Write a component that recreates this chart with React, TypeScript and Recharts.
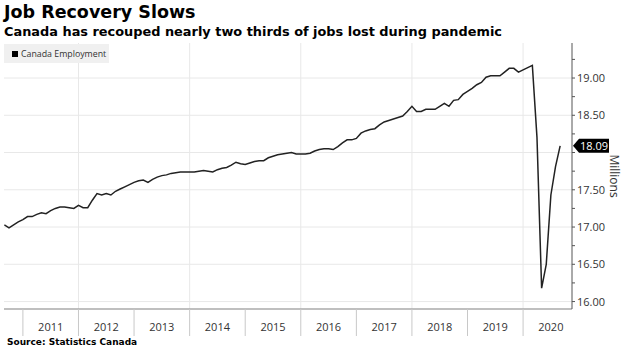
import React from 'react';
import { LineChart, Line, XAxis, YAxis, CartesianGrid, ReferenceDot } from 'recharts';

// Canada employment, millions, monthly (month-end), Aug 2010 - Aug 2020
const emp2010 = [17.03, 16.99, 17.03, 17.07, 17.10]; // Aug-Dec
const emp2011 = [17.14, 17.14, 17.17, 17.19, 17.18, 17.22, 17.25, 17.27, 17.27, 17.26, 17.25, 17.29];
const emp2012 = [17.26, 17.26, 17.36, 17.45, 17.43, 17.45, 17.43, 17.48, 17.51, 17.54, 17.57, 17.60];
const emp2013 = [17.62, 17.63, 17.60, 17.64, 17.67, 17.69, 17.70, 17.72, 17.73, 17.74, 17.74, 17.74];
const emp2014 = [17.74, 17.75, 17.76, 17.75, 17.74, 17.77, 17.79, 17.80, 17.83, 17.87, 17.85, 17.84];
const emp2015 = [17.86, 17.88, 17.89, 17.89, 17.93, 17.95, 17.97, 17.98, 17.99, 18.00, 17.98, 17.98];
const emp2016 = [17.98, 17.99, 18.02, 18.04, 18.05, 18.05, 18.04, 18.08, 18.13, 18.17, 18.17, 18.19];
const emp2017 = [18.26, 18.29, 18.31, 18.32, 18.37, 18.41, 18.43, 18.45, 18.47, 18.49, 18.55, 18.62];
const emp2018 = [18.55, 18.55, 18.58, 18.58, 18.58, 18.62, 18.66, 18.62, 18.70, 18.71, 18.78, 18.82];
const emp2019 = [18.86, 18.91, 18.94, 19.01, 19.03, 19.03, 19.03, 19.08, 19.13, 19.13, 19.08, 19.11];
const emp2020 = [19.14, 19.17, 18.20, 16.18, 16.50, 17.43, 17.81, 18.09]; // Jan-Aug

const years = [2010, 2011, 2012, 2013, 2014, 2015, 2016, 2017, 2018, 2019, 2020];
const series = [emp2010, emp2011, emp2012, emp2013, emp2014, emp2015, emp2016, emp2017, emp2018, emp2019, emp2020];
const firstMonth = [8, 1, 1, 1, 1, 1, 1, 1, 1, 1, 1];

const yearTicks = [2011, 2012, 2013, 2014, 2015, 2016, 2017, 2018, 2019, 2020];
const gridYears = [2012, 2014, 2016, 2018, 2020];
const valueTicks = [16, 16.25, 16.5, 16.75, 17, 17.25, 17.5, 17.75, 18, 18.25, 18.5, 18.75, 19, 19.25];
const gridValues = [16, 16.5, 17, 17.5, 18, 18.5, 19];
const lastValue = 18.09;

const X_MIN = 2010.66;
const X_MAX = 2020.88;
const Y_MIN = 15.9;
const Y_MAX = 19.47;

const W = 628;
const H = 360;
const MARGIN = { top: 43, right: 0, bottom: 21, left: 4 };
const Y_AXIS_W = 56;
const PLOT_W = W - MARGIN.left - MARGIN.right - Y_AXIS_W;
const YEAR_PX = PLOT_W / (X_MAX - X_MIN);

const data = series.flatMap((vals, i) =>
  vals.map((v, j) => ({ t: years[i] + (firstMonth[i] + j) / 12, value: v }))
);

const tickFont = '"Open Sans", sans-serif';

const YearTick = (props: any) => {
  const { x, y, payload } = props;
  return (
    <g>
      <line x1={x} x2={x} y1={y} y2={y + 27} stroke="#c8c8c8" strokeWidth={1} />
      <text
        x={x + YEAR_PX / 2}
        y={y + 22}
        textAnchor="middle"
        fontFamily={tickFont}
        fontSize={11}
        fill="#333"
      >
        {payload.value}
      </text>
    </g>
  );
};

const ValueTick = (props: any) => {
  const { x, y, payload } = props;
  const major = Math.abs(payload.value * 2 - Math.round(payload.value * 2)) < 1e-6;
  // the last-value badge sits over the 18.00 label
  const hidden = Math.abs(payload.value - lastValue) < 0.15;
  return (
    <g>
      <line x1={x} x2={x + 3} y1={y} y2={y} stroke="#555" strokeWidth={1} />
      {major && !hidden && (
        <text x={x + 5} y={y + 4} fontFamily={tickFont} fontSize={11} fill="#333">
          {payload.value.toFixed(2)}
        </text>
      )}
    </g>
  );
};

const Badge = (props: any) => {
  const { cx, cy } = props;
  return (
    <g>
      <polygon
        points={`${cx + 1},${cy} ${cx + 7},${cy - 7} ${cx + 37},${cy - 7} ${cx + 37},${cy + 7} ${cx + 7},${cy + 7}`}
        fill="#000"
      />
      <text
        x={cx + 22}
        y={cy + 4}
        textAnchor="middle"
        fontFamily={tickFont}
        fontSize={11}
        fill="#fff"
      >
        {lastValue.toFixed(2)}
      </text>
    </g>
  );
};

const MillionsLabel = (props: any) => {
  const { viewBox } = props;
  const cx = viewBox.x + 42;
  const cy = viewBox.y + viewBox.height / 2;
  return (
    <text
      x={cx}
      y={cy}
      transform={`rotate(90, ${cx}, ${cy})`}
      textAnchor="middle"
      dominantBaseline="central"
      fontFamily={tickFont}
      fontSize={12}
      fill="#333"
    >
      Millions
    </text>
  );
};

export default function App() {
  return (
    <div
      style={{
        position: 'absolute',
        left: 0,
        top: 0,
        width: W,
        height: H,
        background: '#fff',
        overflow: 'hidden',
      }}
    >
      <div
        style={{
          position: 'absolute',
          left: 4,
          top: 2,
          fontFamily: '"DejaVu Sans", sans-serif',
          fontWeight: 'bold',
          fontSize: 17.5,
          color: '#000',
          whiteSpace: 'nowrap',
        }}
      >
        Job Recovery Slows
      </div>
      <div
        style={{
          position: 'absolute',
          left: 4,
          top: 24,
          fontFamily: '"DejaVu Sans", sans-serif',
          fontWeight: 'bold',
          fontSize: 12.9,
          color: '#000',
          whiteSpace: 'nowrap',
        }}
      >
        Canada has recouped nearly two thirds of jobs lost during pandemic
      </div>

      <LineChart width={W} height={H} data={data} margin={MARGIN}>
        <CartesianGrid
          stroke="#e8e8e8"
          strokeWidth={1}
          horizontalValues={gridValues}
          verticalValues={gridYears}
        />
        <XAxis
          dataKey="t"
          type="number"
          domain={[X_MIN, X_MAX]}
          allowDataOverflow
          ticks={yearTicks}
          interval={0}
          tickSize={0}
          tickMargin={0}
          tickLine={false}
          tick={<YearTick />}
          axisLine={{ stroke: '#aaa', strokeWidth: 1.5 }}
          height={30}
        />
        <YAxis
          orientation="right"
          type="number"
          domain={[Y_MIN, Y_MAX]}
          allowDataOverflow
          ticks={valueTicks}
          interval={0}
          tickSize={0}
          tickMargin={0}
          tickLine={false}
          tick={<ValueTick />}
          axisLine={{ stroke: '#555', strokeWidth: 1 }}
          width={Y_AXIS_W}
          label={<MillionsLabel />}
        />
        <Line
          type="linear"
          dataKey="value"
          stroke="#222"
          strokeWidth={1.5}
          dot={false}
          isAnimationActive={false}
        />
        <ReferenceDot x={X_MAX} y={lastValue} ifOverflow="visible" shape={<Badge />} />
      </LineChart>

      <div
        style={{
          position: 'absolute',
          left: 4,
          top: 44,
          width: 105,
          height: 19,
          background: '#f0f0f0',
          display: 'flex',
          alignItems: 'center',
          fontFamily: tickFont,
          fontSize: 8.8,
          color: '#333',
        }}
      >
        <span
          style={{ display: 'inline-block', width: 6, height: 6, background: '#000', marginLeft: 8, marginRight: 3 }}
        />
        Canada Employment
      </div>

      <div
        style={{
          position: 'absolute',
          left: 7,
          top: 337,
          fontFamily: '"DejaVu Sans", sans-serif',
          fontWeight: 'bold',
          fontSize: 9,
          color: '#000',
          whiteSpace: 'nowrap',
        }}
      >
        Source: Statistics Canada
      </div>
    </div>
  );
}
